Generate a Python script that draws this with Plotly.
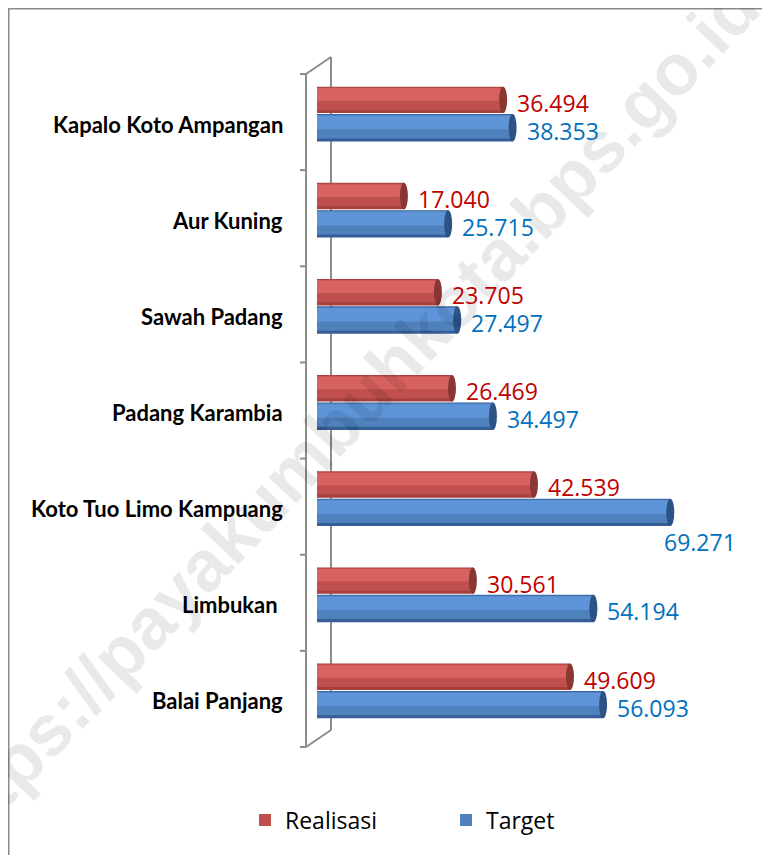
import plotly.graph_objects as go

# ---------------- data ----------------
categories = ["Kapalo Koto Ampangan", "Aur Kuning", "Sawah Padang", "Padang Karambia",
              "Koto Tuo Limo Kampuang", "Limbukan\u00a0", "Balai Panjang"]
realisasi = [36.494, 17.040, 23.705, 26.469, 42.539, 30.561, 49.609]
target = [38.353, 25.715, 27.497, 34.497, 69.271, 54.194, 56.093]
series_names = ["Realisasi", "Target"]
watermark = "https://payakumbuhkota.bps.go.id"

# ---------------- geometry (reference-pixel coordinates) ----------------
OFF = 8                     # default page body margin
W, H = 770, 855
L, R, T, B = 317, 760, 66, 739
PXU = 5.1
XMAX = (R - L) / PXU
CAT_H = (B - T) / len(categories)


def px(p):
    return (p - L) / (R - L)


def py(p):
    return (B - p) / (B - T)


idx = list(range(len(categories)))
fig = go.Figure()

# cylinder-like layered bars: (offset, width, color, legend)
red_layers = [(-0.285, 0.275, "#A5403D", False), (-0.277, 0.235, "#C0504D", True), (-0.268, 0.13, "#D8625F", False)]
blue_layers = [(0.0, 0.285, "#345F99", False), (0.008, 0.245, "#4F81BD", True), (0.018, 0.14, "#5E95D9", False)]

for name, vals, layers in [(series_names[0], realisasi, red_layers), (series_names[1], target, blue_layers)]:
    for off, wd, col, leg in layers:
        fig.add_trace(go.Bar(
            y=idx, x=vals, orientation="h", offset=off, width=wd,
            marker=dict(color=col, line=dict(width=0)),
            name=name, showlegend=leg, hoverinfo="skip", legendgroup=name))

shapes = []
gray = "#8C8C8C"
# outer border (top and left edges visible)
shapes.append(dict(type="rect", xref="paper", yref="paper", x0=px(OFF + 0.5), y0=py(OFF + 0.5), x1=px(800), y1=py(900),
                   line=dict(color="#8A8A8A", width=2), fillcolor="rgba(0,0,0,0)", layer="below"))
# 3D wall lines
for (a, b, c, d) in [(306, 74, 306, 747), (331, 57, 331, 730), (306, 74, 331, 57), (306, 747, 331, 730)]:
    shapes.append(dict(type="line", xref="paper", yref="paper", x0=px(a), y0=py(b), x1=px(c), y1=py(d),
                       line=dict(color=gray, width=2), layer="below"))
for i in range(len(categories) + 1):
    yy = 74 + i * CAT_H
    shapes.append(dict(type="line", xref="paper", yref="paper", x0=px(300), y0=py(yy), x1=px(306), y1=py(yy),
                       line=dict(color=gray, width=2), layer="below"))

cap = 4 / PXU
for vals, layers, capcol, leftcol in [(realisasi, red_layers, "#8A3633", "#C0504D"),
                                      (target, blue_layers, "#2D5286", "#4F81BD")]:
    off, wd = layers[0][0], layers[0][1]
    for i, v in enumerate(vals):
        shapes.append(dict(type="circle", xref="x", yref="y", x0=v - cap, x1=v + cap,
                           y0=i + off, y1=i + off + wd, fillcolor=capcol, line=dict(width=0), layer="above"))
        shapes.append(dict(type="circle", xref="x", yref="y", x0=-cap, x1=cap,
                           y0=i + off, y1=i + off + wd, fillcolor=leftcol, line=dict(width=0), layer="below"))

annotations = []
# watermark
annotations.append(dict(text=watermark, xref="paper", yref="paper", x=px(342), y=py(419),
                        xanchor="center", yanchor="middle",
                        showarrow=False, textangle=-46.5,
                        font=dict(family="Liberation Sans", size=72, color="rgba(0,0,0,0.085)", weight="bold")))
# category labels
for i, c in enumerate(categories):
    annotations.append(dict(text=c, xref="paper", yref="y", x=px(285), y=i, xanchor="right",
                            yanchor="middle", yshift=-10, showarrow=False,
                            font=dict(family="Lato", size=22, color="#000000", weight="bold")))
# data labels
LBL_FONT = "Open Sans"
for vals, layers, col in [(realisasi, red_layers, "#C00000"), (target, blue_layers, "#0070C0")]:
    off, wd = layers[0][0], layers[0][1]
    for i, v in enumerate(vals):
        txt = f"{v:.3f}"
        yc = i + off + wd / 2
        if v * PXU + 13 + 80 > (R - L) - 10:
            annotations.append(dict(text=txt, xref="paper", yref="y", x=px(738), y=yc, xanchor="right",
                                    yanchor="middle", yshift=-30, showarrow=False,
                                    font=dict(family=LBL_FONT, size=23, color=col)))
        else:
            annotations.append(dict(text=txt, xref="x", yref="y", x=v, y=yc, xanchor="left",
                                    yanchor="middle", xshift=12, yshift=-3, showarrow=False,
                                    font=dict(family=LBL_FONT, size=23, color=col)))

fig.update_layout(
    width=W - OFF, height=H - OFF,
    margin=dict(l=L - OFF, r=W - R, t=T - OFF, b=H - B, pad=0),
    paper_bgcolor="white", plot_bgcolor="rgba(0,0,0,0)",
    barmode="overlay",
    xaxis=dict(range=[0, XMAX], visible=False, fixedrange=True),
    yaxis=dict(range=[len(categories) - 0.5, -0.5], visible=False, fixedrange=True),
    shapes=shapes, annotations=annotations,
    showlegend=True,
    legend=dict(orientation="h", x=px(245), y=py(820), xanchor="left", yanchor="middle",
                font=dict(family=LBL_FONT, size=23, color="#000000"),
                entrywidth=156, entrywidthmode="pixels", bgcolor="rgba(0,0,0,0)"),
)

fig.write_html("out.html")
